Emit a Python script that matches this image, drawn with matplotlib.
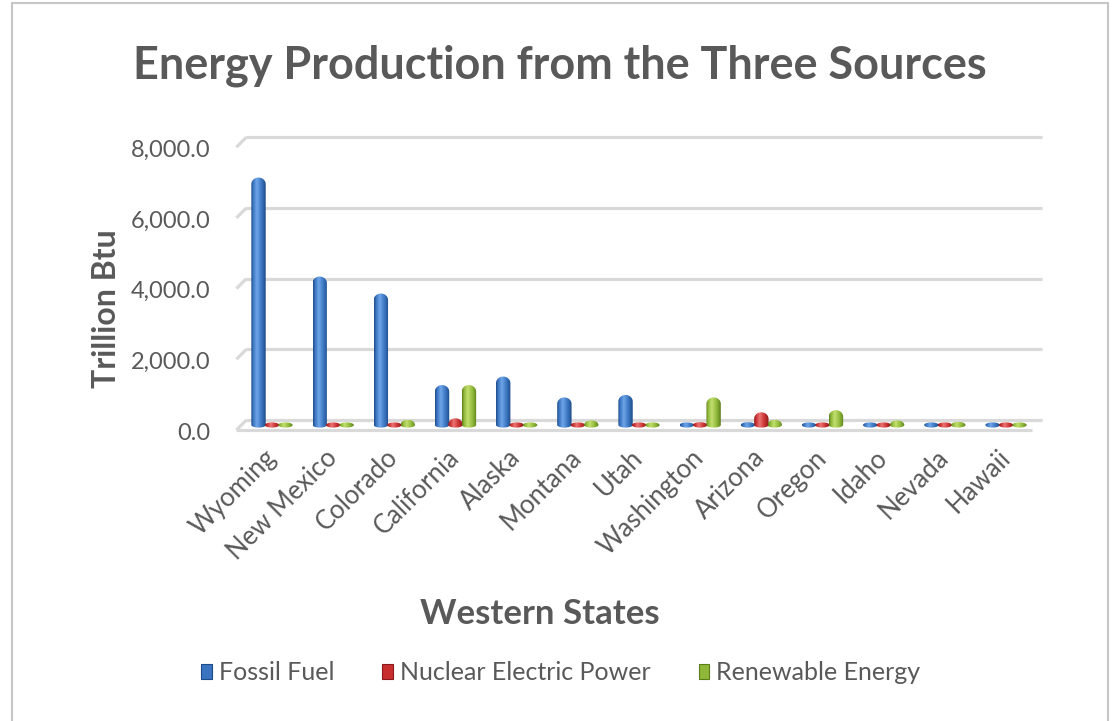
import numpy as np
import matplotlib
matplotlib.use("Agg")
import matplotlib.pyplot as plt
from matplotlib.path import Path
from matplotlib.patches import PathPatch, Rectangle, Patch
from matplotlib.colors import LinearSegmentedColormap
from matplotlib.transforms import ScaledTranslation

# ---- data (trillion Btu) ----
states = ["Wyoming", "New Mexico", "Colorado", "California", "Alaska", "Montana",
          "Utah", "Washington", "Arizona", "Oregon", "Idaho", "Nevada", "Hawaii"]
fossil_fuel = [7000, 4200, 3720, 1130, 1370, 780, 850, 20, 80, 0, 0, 0, 0]
nuclear_power = [0, 0, 0, 190, 0, 0, 0, 80, 360, 0, 0, 0, 0]
renewable_energy = [50, 70, 150, 1130, 20, 130, 40, 780, 150, 420, 130, 90, 30]
series_names = ["Fossil Fuel", "Nuclear Electric Power", "Renewable Energy"]
y_ticks = [0, 2000, 4000, 6000, 8000]

plt.rcParams['font.family'] = ['Lato', 'DejaVu Sans']

W, H, DPI = 1114, 721, 100
TEXT = '#595959'
GRID = '#d9d9d9'

fig = plt.figure(figsize=(W / DPI, H / DPI), dpi=DPI)


def fx(px):
    return px / W


def fy(py):
    return 1 - py / H


# plot area (pixel layout of the value axis)
x_left, x_right = 241.4, 1036.6
y_zero, y_top = 425.0, 142.2
y_min = -300
sy = (y_zero - y_top) / 8000.0          # px per Btu unit
sx = (x_right - x_left) / len(states)   # px per category
y_bottom_px = y_zero - y_min * sy

ax = fig.add_axes([fx(x_left), fy(y_bottom_px), (x_right - x_left) / W,
                   (y_bottom_px - y_top) / H])
ax.set_xlim(-0.5, len(states) - 0.5)
ax.set_ylim(y_min, 8000)
for s in ax.spines.values():
    s.set_visible(False)
ax.patch.set_alpha(0)

# ---- 3-D style wall gridlines and floor ----
ddx = 5.0 / sx
ddy = 5.0 / sy
x0, x1 = -0.5, len(states) - 0.5
for v in y_ticks:
    ax.plot([x0 + ddx, x1 + ddx], [v + ddy, v + ddy], color=GRID, lw=2.3,
            solid_capstyle='butt', clip_on=False, zorder=0)
    ax.plot([x0 - ddx, x0 + ddx], [v - ddy, v + ddy], color=GRID, lw=2.3,
            solid_capstyle='butt', clip_on=False, zorder=0)
ax.plot([x0 - ddx, x1 - ddx], [-ddy, -ddy], color=GRID, lw=2.3,
        solid_capstyle='butt', clip_on=False, zorder=0)

# ---- cylinder bars ----
palettes = [
    ('#1d4a86', '#3a74c0', '#6ea6e8'),
    ('#8a1a1a', '#c83030', '#ec7474'),
    ('#5c7c1a', '#8fb83a', '#c2e070'),
]
series = [fossil_fuel, nuclear_power, renewable_energy]
offsets = [-0.22, 0.0, 0.22]
bar_w = 0.235
grad = np.linspace(0, 1, 128).reshape(1, -1)


def cylinder_path(xc, half_w, value):
    bb = 2.6 / sy
    v_px = value * sy
    bt_px = min(6.5, max(2.6, v_px))
    bt = bt_px / sy
    body_top = max(value - bt, 0)
    t1 = np.linspace(np.pi, 2 * np.pi, 40)
    bottom = np.column_stack([xc + half_w * np.cos(t1), bb * np.sin(t1)])
    t2 = np.linspace(0, np.pi, 40)
    top = np.column_stack([xc + half_w * np.cos(t2), body_top + bt * np.sin(t2)])
    verts = np.vstack([bottom, top, bottom[:1]])
    codes = [Path.MOVETO] + [Path.LINETO] * (len(verts) - 2) + [Path.CLOSEPOLY]
    return Path(verts, codes), body_top + bt, bb


for vals, off, (dark, mid, light) in zip(series, offsets, palettes):
    cmap = LinearSegmentedColormap.from_list(
        'cyl', [(0, dark), (0.14, mid), (0.38, light), (0.72, mid), (1, dark)])
    for i, v in enumerate(vals):
        xc = i + off
        path, top, bb = cylinder_path(xc, bar_w / 2, v)
        patch = PathPatch(path, facecolor='none', edgecolor='none', zorder=3)
        ax.add_patch(patch)
        im = ax.imshow(grad, extent=[xc - bar_w / 2, xc + bar_w / 2, -bb, top],
                       aspect='auto', cmap=cmap, interpolation='bilinear',
                       zorder=3, origin='lower')
        im.set_clip_path(patch)

ax.set_xlim(-0.5, len(states) - 0.5)
ax.set_ylim(y_min, 8000)

# ---- axes text ----
ax.set_yticks(y_ticks)
ax.set_yticklabels([f"{v:,.1f}" for v in y_ticks])
ax.set_xticks(range(len(states)))
ax.set_xticklabels(states, rotation=45, ha='right', va='center',
                   rotation_mode='anchor')
ax.tick_params(axis='y', length=0, pad=22, labelsize=17, labelcolor=TEXT)
ax.tick_params(axis='x', length=0, pad=13, labelsize=18.5, labelcolor=TEXT)
for lab in ax.get_yticklabels():
    lab.set_transform(lab.get_transform() +
                      ScaledTranslation(0, -6 / DPI, fig.dpi_scale_trans))

fig.text(fx(560), fy(66), "Energy Production from the Three Sources",
         ha='center', va='center', fontsize=32.4, fontweight='bold', color=TEXT)
fig.text(fx(106), fy(309), "Trillion Btu", rotation=90, ha='center',
         va='center', fontsize=23, fontweight='bold', color=TEXT)
fig.text(fx(540), fy(614), "Western States", ha='center', va='center',
         fontsize=25, fontweight='bold', color=TEXT)

handles = [Patch(facecolor=p[1], edgecolor=p[0], lw=0.8) for p in palettes]
fig.legend(handles, series_names, loc='center', bbox_to_anchor=(fx(561), fy(673)),
           ncol=3, frameon=False, fontsize=18, handlelength=0.42,
           handleheight=0.55, handletextpad=0.3, columnspacing=1.9,
           labelcolor=TEXT)

# chart border
fig.add_artist(Rectangle((fx(12), -0.01), (1108 - 12) / W, fy(3) + 0.01,
                         transform=fig.transFigure, facecolor='none',
                         edgecolor='#c6c6c6', lw=1.5, clip_on=False))

fig.savefig("out.png", dpi=DPI)
